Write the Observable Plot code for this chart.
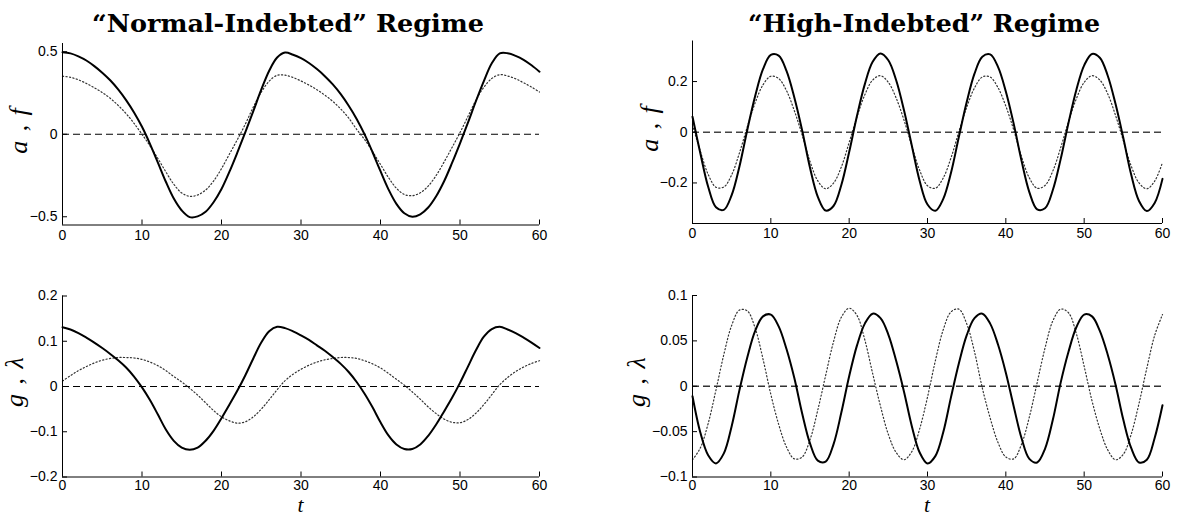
<!DOCTYPE html>
<html><head><meta charset="utf-8">
<script src="https://cdn.jsdelivr.net/npm/d3@7"></script>
<script src="https://cdn.jsdelivr.net/npm/@observablehq/plot@0.6"></script>
<style>
body{margin:0;background:#fff}
#wrap{position:relative;width:1177px;height:517px;background:#fff;overflow:hidden}
#wrap svg{position:absolute;left:0;top:0}
</style></head><body><div id="wrap"></div>
<script>
// time grid
const t = d3.range(0, 61);
const xTicks = [0, 10, 20, 30, 40, 50, 60];

// "Normal-Indebted" regime
const aNormal = [0.497,0.490,0.472,0.447,0.413,0.373,0.327,0.272,0.207,0.132,
 0.045,-0.058,-0.172,-0.288,-0.390,-0.462,-0.502,-0.498,-0.470,-0.412,
 -0.332,-0.227,-0.110,0.013,0.140,0.270,0.385,0.465,0.495,0.482,
 0.461,0.432,0.395,0.352,0.302,0.243,0.173,0.093,-0.001,-0.109,
 -0.224,-0.334,-0.422,-0.479,-0.500,-0.485,-0.444,-0.376,-0.285,-0.174,
 -0.055,0.070,0.200,0.322,0.430,0.490,0.491,0.475,0.451,0.418,0.379];
const fNormal = [0.352,0.345,0.330,0.308,0.282,0.253,0.218,0.175,0.125,0.066,
 0.000,-0.070,-0.147,-0.228,-0.303,-0.356,-0.376,-0.368,-0.338,-0.284,
 -0.208,-0.120,-0.032,0.062,0.165,0.255,0.322,0.357,0.358,0.344,
 0.323,0.298,0.270,0.237,0.199,0.153,0.098,0.030,-0.032,-0.105,
 -0.183,-0.262,-0.327,-0.365,-0.372,-0.355,-0.314,-0.250,-0.168,-0.080,
 0.010,0.108,0.206,0.285,0.338,0.361,0.353,0.336,0.312,0.286,0.256];
const gNormal = [0.131,0.126,0.118,0.108,0.097,0.085,0.072,0.058,0.042,0.022,
 -0.002,-0.030,-0.062,-0.095,-0.120,-0.135,-0.140,-0.135,-0.120,-0.098,
 -0.070,-0.040,-0.009,0.025,0.062,0.097,0.122,0.132,0.129,0.122,
 0.113,0.103,0.091,0.079,0.065,0.050,0.032,0.010,-0.016,-0.046,
 -0.079,-0.108,-0.128,-0.138,-0.138,-0.128,-0.109,-0.084,-0.055,-0.025,
 0.008,0.044,0.080,0.110,0.127,0.132,0.126,0.118,0.108,0.097,0.085];
const lamNormal = [0.012,0.024,0.035,0.044,0.052,0.058,0.062,0.064,0.064,0.063,
 0.060,0.054,0.046,0.035,0.022,0.010,-0.004,-0.019,-0.036,-0.053,
 -0.067,-0.076,-0.081,-0.078,-0.067,-0.050,-0.029,-0.007,0.013,0.027,
 0.038,0.047,0.054,0.059,0.062,0.064,0.064,0.062,0.057,0.050,
 0.041,0.029,0.016,0.003,-0.012,-0.028,-0.045,-0.060,-0.072,-0.079,
 -0.080,-0.073,-0.059,-0.040,-0.018,0.004,0.020,0.033,0.043,0.051,0.057];

// "High-Indebted" regime
const aHigh = [0.061,-0.083,-0.215,-0.296,-0.306,-0.248,-0.134,0.010,0.143,0.249,
 0.305,0.302,0.242,0.137,0.007,-0.140,-0.255,-0.309,-0.291,-0.208,
 -0.078,0.065,0.190,0.278,0.311,0.284,0.205,0.087,-0.053,-0.192,
 -0.285,-0.310,-0.264,-0.160,-0.019,0.118,0.231,0.298,0.307,0.258,
 0.161,0.034,-0.112,-0.236,-0.304,-0.300,-0.228,-0.106,0.037,0.167,
 0.264,0.309,0.294,0.224,0.112,-0.023,-0.167,-0.271,-0.311,-0.279,-0.184];
const fHigh = [0.029,-0.075,-0.166,-0.217,-0.216,-0.168,-0.081,0.022,0.116,0.187,
 0.221,0.212,0.164,0.085,-0.011,-0.115,-0.192,-0.223,-0.201,-0.137,
 -0.040,0.061,0.148,0.206,0.223,0.197,0.135,0.048,-0.054,-0.150,
 -0.211,-0.221,-0.181,-0.101,0.002,0.098,0.175,0.218,0.218,0.176,
 0.103,0.010,-0.096,-0.180,-0.221,-0.210,-0.153,-0.061,0.042,0.132,
 0.197,0.223,0.206,0.152,0.067,-0.033,-0.133,-0.200,-0.223,-0.193,-0.119];
const gHigh = [-0.011,-0.051,-0.076,-0.085,-0.074,-0.044,-0.004,0.032,0.061,0.077,
 0.079,0.066,0.041,0.009,-0.030,-0.063,-0.082,-0.083,-0.064,-0.029,
 0.011,0.045,0.069,0.080,0.075,0.057,0.028,-0.006,-0.044,-0.073,
 -0.085,-0.077,-0.051,-0.012,0.025,0.056,0.075,0.080,0.069,0.046,
 0.015,-0.022,-0.057,-0.080,-0.084,-0.069,-0.037,0.004,0.038,0.065,
 0.079,0.077,0.061,0.035,0.002,-0.037,-0.068,-0.084,-0.081,-0.057,-0.021];
const lamHigh = [-0.081,-0.068,-0.041,-0.004,0.035,0.067,0.084,0.083,0.064,0.030,
 -0.009,-0.042,-0.067,-0.080,-0.078,-0.059,-0.026,0.012,0.049,0.076,
 0.086,0.078,0.051,0.014,-0.022,-0.053,-0.073,-0.081,-0.072,-0.047,
 -0.012,0.028,0.062,0.082,0.085,0.069,0.038,-0.002,-0.035,-0.062,
 -0.078,-0.080,-0.064,-0.034,0.004,0.042,0.072,0.085,0.081,0.058,
 0.022,-0.016,-0.047,-0.070,-0.081,-0.075,-0.053,-0.019,0.020,0.056,0.079];

const yTicksAFn = [-0.5, 0, 0.5];
const yTicksAFh = [-0.2, 0, 0.2];
const yTicksGLn = [-0.2, -0.1, 0, 0.1, 0.2];
const yTicksGLh = [-0.1, -0.05, 0, 0.05, 0.1];

const titles = ["\u201CNormal-Indebted\u201D Regime", "\u201CHigh-Indebted\u201D Regime"];

const W = 1177, H = 517;
const fmt = d => d === 0 ? "0" : String(d).replace("-", "\u2212");

function panel(o) {
  const fw = o.right - o.left, fh = o.bottom - o.top;
  const sd = t.map((x, i) => ({t: x, v: o.solid[i]}));
  const dd = t.map((x, i) => ({t: x, v: o.dotted[i]}));
  return Plot.plot({
    width: W, height: H,
    marginLeft: o.left, marginRight: W - o.right, marginTop: o.top, marginBottom: H - o.bottom,
    style: {background: "transparent", fontFamily: '"Liberation Sans", Arial, sans-serif', fontSize: "14px", color: "#000", overflow: "visible"},
    x: {domain: [0, 60]},
    y: {domain: o.yDomain},
    marks: [
      Plot.ruleY([0], {stroke: o.dashColor, strokeWidth: o.dashWidth, strokeDasharray: "7,4"}),
      Plot.line(dd, {x: "t", y: "v", stroke: "#333", strokeWidth: 1.2, strokeDasharray: "1.2,2.3", curve: "catmull-rom"}),
      Plot.line(sd, {x: "t", y: "v", stroke: "#000", strokeWidth: 2, curve: "catmull-rom"}),
      Plot.ruleX([0], {stroke: "#000", strokeWidth: 1}),
      Plot.ruleY([o.yDomain[0]], {stroke: "#000", strokeWidth: 1}),
      Plot.tickX(xTicks, {x: d => d, insetTop: fh - 5, stroke: "#000"}),
      Plot.tickY(o.yTicks, {y: d => d, insetRight: fw - 5, stroke: "#000"}),
      Plot.axisX({ticks: xTicks, tickSize: 0, tickPadding: o.xPad, label: null, tickFormat: fmt}),
      Plot.axisY({ticks: o.yTicks, tickSize: 0, tickPadding: 5, label: null, tickFormat: fmt})
    ]
  });
}

const wrap = document.getElementById("wrap");
wrap.append(panel({solid: aNormal, dotted: fNormal, yDomain: [-0.55, 0.55], yTicks: yTicksAFn,
  left: 62, right: 539, top: 43, bottom: 224.5, dashColor: "#000", dashWidth: 1, xPad: 5}));
wrap.append(panel({solid: aHigh, dotted: fHigh, yDomain: [-0.36, 0.36], yTicks: yTicksAFh,
  left: 692, right: 1162, top: 40.5, bottom: 223, dashColor: "#444", dashWidth: 1.5, xPad: 5}));
wrap.append(panel({solid: gNormal, dotted: lamNormal, yDomain: [-0.2, 0.2], yTicks: yTicksGLn,
  left: 62, right: 539, top: 295.5, bottom: 476.5, dashColor: "#000", dashWidth: 1, xPad: 3.5}));
wrap.append(panel({solid: gHigh, dotted: lamHigh, yDomain: [-0.1, 0.1], yTicks: yTicksGLh,
  left: 692, right: 1162, top: 295, bottom: 476.5, dashColor: "#333", dashWidth: 1.3, xPad: 3.5}));

// text overlay
const svg = d3.select(wrap).append("svg").attr("width", W).attr("height", H);
function title(x, len, s) {
  svg.append("text").attr("x", x).attr("y", 32).text(s)
    .attr("font-family", '"DejaVu Serif", serif').attr("font-weight", "bold")
    .attr("font-size", 25).attr("text-anchor", "middle").attr("fill", "#000")
    .attr("textLength", len).attr("lengthAdjust", "spacingAndGlyphs");
}
title(288, 392, titles[0]);
title(924, 352, titles[1]);

function ylab(x, y, v1, v2) {
  const tx = svg.append("text").attr("transform", `translate(${x},${y}) rotate(-90)`)
    .attr("font-family", '"Liberation Serif", serif').attr("font-size", 26)
    .attr("text-anchor", "middle").attr("fill", "#000");
  tx.append("tspan").attr("font-style", "italic").text(v1);
  tx.append("tspan").attr("dx", 3).text(" ,");
  tx.append("tspan").attr("dx", 3).attr("font-style", "italic").text(" " + v2);
}
ylab(27, 131, "a", "f");
ylab(658, 129, "a", "f");
ylab(23, 382, "g", "\u03BB");
ylab(645, 382, "g", "\u03BB");

function xlab(x) {
  svg.append("text").attr("x", x).attr("y", 512.3).attr("font-family", '"Liberation Serif", serif')
    .attr("font-size", 21.5).attr("font-style", "italic").attr("text-anchor", "middle").text("t");
}
xlab(300.5); xlab(927);
</script></body></html>
